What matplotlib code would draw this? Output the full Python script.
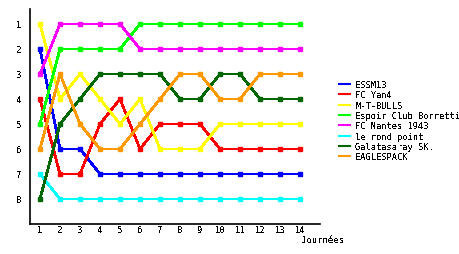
import matplotlib
matplotlib.use("Agg")
import matplotlib.pyplot as plt

journees = list(range(1, 15))

teams = ["ESSM13", "FC Yan4", "M-T-BULLS", "Espoir Club Borretti",
         "FC Nantes 1943", "le rond point", "Galatasaray SK.", "EAGLESPACK"]
colors = ["#0000ff", "#ff0000", "#ffff00", "#00ff00",
          "#ff00ff", "#00ffff", "#006600", "#ff9900"]

essm13 = [2, 6, 6, 7, 7, 7, 7, 7, 7, 7, 7, 7, 7, 7]
fc_yan4 = [4, 7, 7, 5, 4, 6, 5, 5, 5, 6, 6, 6, 6, 6]
mt_bulls = [1, 4, 3, 4, 5, 4, 6, 6, 6, 5, 5, 5, 5, 5]
espoir = [5, 2, 2, 2, 2, 1, 1, 1, 1, 1, 1, 1, 1, 1]
nantes = [3, 1, 1, 1, 1, 2, 2, 2, 2, 2, 2, 2, 2, 2]
rond_point = [7, 8, 8, 8, 8, 8, 8, 8, 8, 8, 8, 8, 8, 8]
galatasaray = [8, 5, 4, 3, 3, 3, 3, 4, 4, 3, 3, 4, 4, 4]
eaglespack = [6, 3, 5, 6, 6, 5, 4, 3, 3, 4, 4, 3, 3, 3]

series = [essm13, fc_yan4, mt_bulls, espoir, nantes, rond_point, galatasaray, eaglespack]

plt.rcParams['font.family'] = ['DejaVu Sans Mono']
plt.rcParams['text.antialiased'] = False

fig = plt.figure(figsize=(4.6, 2.55), dpi=100)
ax = fig.add_axes([30/460, 1-225/255, 290/460, 215/255])

for name, vals, c in zip(teams, series, colors):
    ax.plot(journees, vals, color=c, lw=1.3, marker='s', ms=2.3,
            antialiased=False, label=name)

ax.set_xlim(0.5, 15)
ax.set_ylim(9, 0.4)
ax.set_xticks(journees)
ax.set_yticks(range(1, 9))
ax.tick_params(length=0, labelsize=6.5, pad=1)
ax.tick_params(axis='y', pad=6)
for s in ['top', 'right']:
    ax.spines[s].set_visible(False)
for s in ['left', 'bottom']:
    ax.spines[s].set_linewidth(1.2)

fig.text(344/460, 1-241/255, 'Journées', ha='right', va='center', fontsize=6.5)

leg = fig.legend(loc='upper left', bbox_to_anchor=(339/460, 1-81/255), frameon=False,
                 fontsize=6.3, handlelength=1.3, handletextpad=0.55, labelspacing=0.15,
                 borderaxespad=0, borderpad=0)
for h in leg.legend_handles:
    h.set_marker('')
    h.set_linewidth(1.5)

fig.savefig("out.png", dpi=100)
